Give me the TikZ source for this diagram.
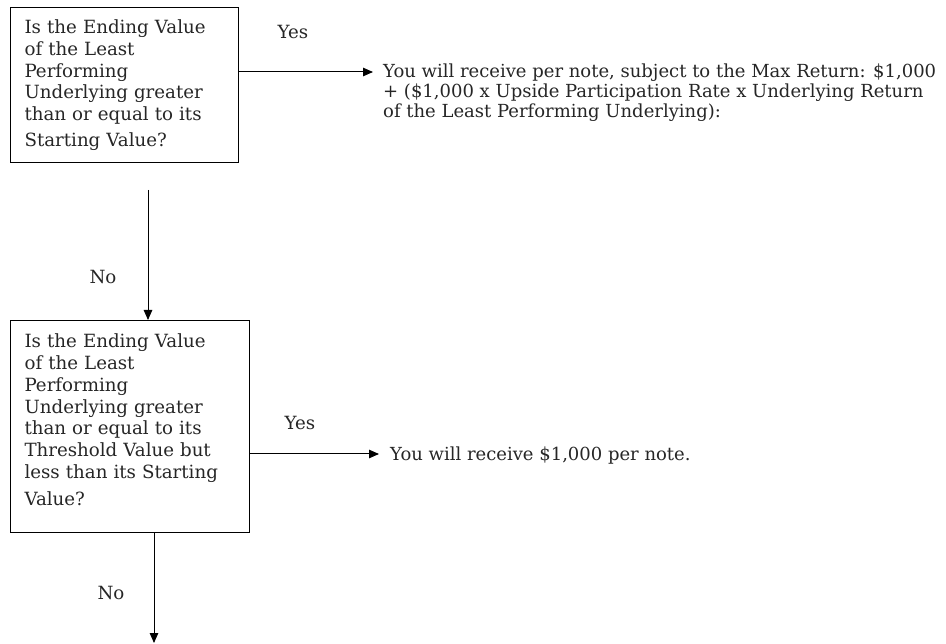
\documentclass[tikz,border=0pt]{standalone}
\usepackage{fontspec}
\setmainfont{DejaVu Serif}
\usetikzlibrary{arrows.meta,calc}
\begin{document}
\begin{tikzpicture}[x=1pt,y=-1pt,
  txt/.style={font=\fontsize{18.2}{21.8}\selectfont, text=black!85},
  box/.style={txt, draw, line width=1.1pt, anchor=north west, align=left, inner xsep=14pt, inner ysep=0pt},
  lbl/.style={txt, inner sep=0pt},
  res/.style={font=\fontsize{18}{20}\selectfont, text=black!85, anchor=north west, align=left, inner sep=0pt},
  arr/.style={line width=1pt, -{Triangle[length=10pt,width=8.5pt]}}]
\useasboundingbox (0,0) rectangle (946,644);
\node[box, text width=200pt, minimum height=155pt] (q1) at (10,7)
  {Is the Ending Value\\of the Least\\Performing\\Underlying greater\\than or equal to its\\[4pt]Starting Value?};
\node[box, text width=211pt, minimum height=212pt] (q2) at (10,320)
  {Is the Ending Value\\of the Least\\Performing\\Underlying greater\\than or equal to its\\Threshold Value but\\less than its Starting\\[5pt]Value?\\[-8pt]\mbox{}};
\node[res] (r1) at (383,64)
  {You will receive per note, subject to the Max Return: \$1,000\\+ (\$1,000\ x Upside Participation Rate x Underlying Return\\of the Least Performing Underlying):};
\node[res] (r2) at (390,447) {You will receive \$1,000\ per note.};
\coordinate (a1) at ($(q1.north east)+(0,65)$);
\draw[arr] (a1) -- ($(a1 -| r1.west)+(-10,0)$);
\coordinate (s1) at (148,190);
\draw[arr] (s1) -- (s1 |- q2.north);
\coordinate (a2) at ($(q2.north east)+(0,134)$);
\draw[arr] (a2) -- ($(a2 -| r2.west)+(-11,0)$);
\coordinate (e2) at (154,643);
\draw[arr] (q2.south -| e2) -- (e2);
\node[lbl] (y1) at (293,32) {Yes};
\node[lbl] (n1) at (103,277) {No};
\node[lbl] (y2) at (300,423) {Yes};
\node[lbl] (n2) at (111,593) {No};
\end{tikzpicture}
\end{document}
